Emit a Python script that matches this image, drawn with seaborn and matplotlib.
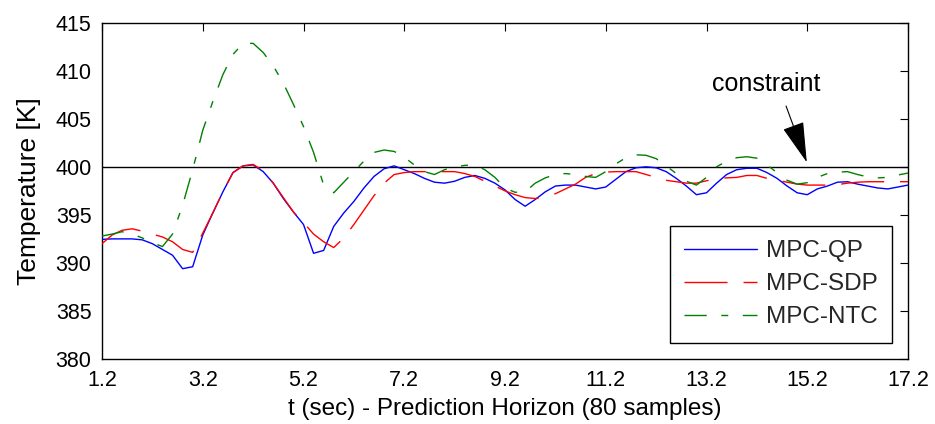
import numpy as np
import pandas as pd
import matplotlib
matplotlib.use("Agg")
import matplotlib.pyplot as plt
import seaborn as sns

# ---- data -------------------------------------------------------------
t_start, t_end, n_samples = 1.2, 17.2, 80
time = np.round(np.linspace(t_start, t_end, n_samples + 1), 2)

mpc_qp = [392.45, 392.5, 392.5, 392.5, 392.4, 392.0, 391.4, 390.8, 389.4, 389.6,
          392.9, 395.2, 397.4, 399.4, 400.1, 400.2, 399.5, 398.3, 396.7, 395.3,
          394.0, 391.0, 391.3, 393.8, 395.2, 396.4, 397.8, 399.0, 399.8, 400.1,
          399.7, 399.3, 398.8, 398.4, 398.3, 398.5, 398.9, 399.1, 398.8, 398.3,
          397.6, 396.6, 395.9, 396.6, 397.4, 398.0, 398.1, 398.1, 397.9, 397.7,
          397.9, 398.7, 399.5, 399.9, 400.0, 399.9, 399.5, 398.8, 398.0, 397.1,
          397.3, 398.3, 399.2, 399.7, 399.85, 399.85, 399.4, 398.8, 398.0, 397.3,
          397.1, 397.7, 398.0, 398.4, 398.45, 398.2, 398.0, 397.8, 397.7, 397.9,
          398.1]

mpc_sdp = [392.0, 392.9, 393.4, 393.55, 393.3, 393.0, 392.7, 392.2, 391.4, 391.1,
           393.1, 395.2, 397.4, 399.4, 400.1, 400.25, 399.6, 398.3, 396.8, 395.3,
           394.2, 393.0, 392.2, 391.6, 392.6, 394.0, 395.5, 397.0, 398.3, 399.2,
           399.4, 399.5, 399.5, 399.5, 399.5, 399.5, 399.3, 399.0, 398.5, 398.0,
           397.5, 397.1, 396.8, 396.7, 396.9, 397.2, 397.7, 398.2, 398.9, 399.3,
           399.45, 399.5, 399.5, 399.5, 399.2, 398.9, 398.6, 398.45, 398.3, 398.3,
           398.55, 398.75, 398.85, 398.9, 399.1, 399.1, 398.8, 398.6, 398.4, 398.2,
           398.1, 398.1, 398.1, 398.15, 398.3, 398.4, 398.45, 398.45, 398.45, 398.45,
           398.45]

mpc_ntc = [392.8, 393.0, 393.25, 393.0, 392.6, 392.1, 391.7, 393.0, 396.0, 399.7,
           403.8, 406.8, 409.6, 411.7, 412.85, 412.85, 411.9, 410.5, 408.7, 406.5,
           404.2, 401.5, 398.1, 397.3, 398.4, 399.5, 400.6, 401.5, 401.75, 401.6,
           401.0, 400.2, 399.5, 399.2, 399.7, 400.0, 400.15, 400.2, 399.7, 398.9,
           397.8, 397.35, 397.4, 398.3, 398.85, 399.2, 399.3, 399.2, 399.0, 398.9,
           399.5, 400.3, 400.95, 401.25, 401.2, 400.85, 400.1, 399.3, 398.5, 398.1,
           398.9, 400.0, 400.6, 400.95, 401.05, 400.9, 400.2, 399.4, 398.6, 398.2,
           398.35, 398.9, 399.3, 399.45, 399.5, 399.2, 398.95, 398.85, 398.9, 399.15,
           399.35]

series_names = ["MPC-QP", "MPC-SDP", "MPC-NTC"]
constraint_value = 400
x_ticks = [1.2, 3.2, 5.2, 7.2, 9.2, 11.2, 13.2, 15.2, 17.2]
y_ticks = [380, 385, 390, 395, 400, 405, 410, 415]

# ---- style ------------------------------------------------------------
sns.set_theme(style="white")
plt.rcParams["font.family"] = ["Liberation Sans", "DejaVu Sans"]
plt.rcParams["lines.scale_dashes"] = False
tick_fs, xlab_fs, ylab_fs, leg_fs = 15.5, 17.5, 19, 17.5

df = pd.DataFrame({
    "t": np.concatenate([time, time, time]),
    "T": np.concatenate([mpc_qp, mpc_sdp, mpc_ntc]),
    "series": np.repeat(series_names, len(time)),
})

fig = plt.figure(figsize=(9.35, 4.24), dpi=100)
ax = fig.add_axes([102 / 935, 1 - 359 / 424, 806 / 935, (359 - 22.7) / 424])

palette = {"MPC-QP": "#0000ff", "MPC-SDP": "#ff0000", "MPC-NTC": "#008000"}
dash_map = {"MPC-QP": "", "MPC-SDP": (31, 11.5), "MPC-NTC": (16, 10.5, 5, 10.5)}

ax.axhline(constraint_value, color="black", lw=1.0, zorder=1)
sns.lineplot(data=df, x="t", y="T", hue="series", style="series",
             palette=palette, dashes=dash_map, lw=1.0, ax=ax, zorder=3,
             legend=True)

ax.set_xlim(t_start, t_end)
ax.set_ylim(380, 415)
ax.set_xticks(x_ticks)
ax.set_xticklabels([f"{v:.1f}" for v in x_ticks])
ax.set_yticks(y_ticks)
ax.tick_params(direction="in", length=6, width=0.8, top=True, right=True,
               labelsize=tick_fs, colors="black")
ax.tick_params(axis="x", pad=8)
ax.tick_params(axis="y", pad=7.5)
for s in ax.spines.values():
    s.set_color("black")
    s.set_linewidth(1.0)

ax.set_xlabel("t (sec) - Prediction Horizon (80 samples)", fontsize=xlab_fs,
              color="black", labelpad=5)
ax.set_ylabel("Temperature [K]", fontsize=ylab_fs, color="black", labelpad=10)

ax.text(14.38, 408.6, "constraint", fontsize=18, ha="center", va="center", color="black")
ax.annotate("", xy=(15.21, 400.2), xytext=(14.76, 406.6),
            arrowprops=dict(arrowstyle="-|>,head_length=1.3,head_width=0.35",
                            mutation_scale=20, color="black", lw=0.8))

leg = ax.legend(loc="lower right", bbox_to_anchor=(0.980, 0.048), borderaxespad=0,
                fontsize=leg_fs, frameon=True, fancybox=False, edgecolor="black",
                framealpha=1, handlelength=3.0, handletextpad=0.35,
                labelspacing=0.45, borderpad=0.6, title=None)
leg.get_frame().set_linewidth(1.0)

fig.savefig("out.png", dpi=100)
